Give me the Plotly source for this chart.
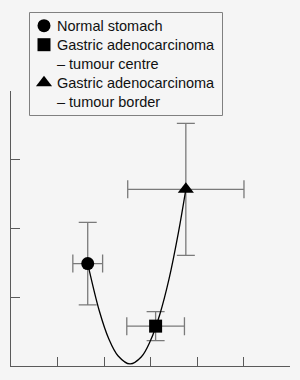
import plotly.graph_objects as go

# Data
groups = ["Normal stomach",
          "Gastric adenocarcinoma",
          "Gastric adenocarcinoma"]
subtitles = ["", "– tumour centre", "– tumour border"]
symbols = ["circle", "square", "triangle-up"]
x_vals = [1.65, 3.11, 3.76]
y_vals = [1.49, 0.58, 2.57]
x_err = [0.32, 0.62, 1.25]
y_err = [0.60, 0.21, 0.96]

curve_x = [1.65, 1.9, 2.1, 2.3, 2.56, 2.8, 3.0, 3.2, 3.4, 3.6, 3.76]
curve_y = [1.49, 0.80, 0.40, 0.15, 0.03, 0.13, 0.37, 0.75, 1.27, 1.94, 2.57]

x_ticks = [0, 1, 2, 3, 4, 5, 6]
y_ticks = [0, 1, 2, 3, 4]

BG = "#f5f5f5"
AXIS = "#5a5a5a"
ERR = "#7a7a7a"
W, H = 300, 380

fig = go.Figure()

# error bars
fig.add_trace(go.Scatter(
    x=x_vals, y=y_vals, mode="markers",
    marker=dict(size=1, opacity=0),
    error_x=dict(type="data", array=x_err, color=ERR, thickness=1.3, width=9),
    error_y=dict(type="data", array=y_err, color=ERR, thickness=1.3, width=9),
    showlegend=False, hoverinfo="skip"))

# fitted curve
fig.add_trace(go.Scatter(
    x=curve_x, y=curve_y, mode="lines", line=dict(color="#000000", width=1.3, shape="spline"),
    showlegend=False, hoverinfo="skip"))

# markers
fig.add_trace(go.Scatter(
    x=x_vals, y=y_vals, mode="markers",
    marker=dict(symbol=symbols, size=[13, 13, 14], color="black", opacity=1,
                line=dict(width=0)),
    showlegend=False, hoverinfo="skip"))

# manual legend (pixel overlay axes covering the whole page)
leg_left, leg_right, leg_top, leg_bottom = 29.5, 222.5, 12.5, 115.5
row_y = [25.7, 44.7, 63.7, 82.7, 101.7]
sym_x, text_x = 44, 54.5
sym_rows = [row_y[0], row_y[1], row_y[3]]
fig.add_trace(go.Scatter(
    x=[sym_x] * 3, y=sym_rows, mode="markers", xaxis="x2", yaxis="y2",
    marker=dict(symbol=symbols, size=[13, 13, 14], color="black", opacity=1,
                line=dict(width=0)),
    showlegend=False, hoverinfo="skip"))
fig.add_shape(type="rect", xref="x2", yref="y2", x0=leg_left, x1=leg_right,
              y0=leg_top, y1=leg_bottom, line=dict(color="#808080", width=1))
lines = [groups[0], groups[1], subtitles[1], groups[2], subtitles[2]]
for txt, yy in zip(lines, row_y):
    fig.add_annotation(x=text_x, y=yy, xref="x2", yref="y2", text=txt, showarrow=False,
                       xanchor="left", yanchor="middle",
                       font=dict(size=14.5, color="#111111"))

fig.update_layout(
    width=W, height=H,
    margin=dict(l=0, r=0, t=0, b=0),
    paper_bgcolor=BG, plot_bgcolor="rgba(0,0,0,0)",
    font=dict(family="Liberation Sans, Arial, sans-serif", size=13, color="#111111"),
    showlegend=False,
    xaxis=dict(domain=[11 / W, 290 / W], range=[0, 6], tickvals=x_ticks,
               showticklabels=False, ticks="inside",
               ticklen=9, tickcolor=AXIS, showline=True, linecolor=AXIS, linewidth=1,
               showgrid=False, zeroline=False),
    yaxis=dict(domain=[1 - 366 / H, 1 - 91 / H], range=[0, 4], tickvals=y_ticks,
               showticklabels=False, ticks="inside",
               ticklen=9, tickcolor=AXIS, showline=True, linecolor=AXIS, linewidth=1,
               showgrid=False, zeroline=False),
    xaxis2=dict(domain=[0, 1], range=[0, W], visible=False, fixedrange=True,
                anchor="y2"),
    yaxis2=dict(domain=[0, 1], range=[H, 0], visible=False, fixedrange=True,
                anchor="x2"),
)

fig.write_html("out.html")
